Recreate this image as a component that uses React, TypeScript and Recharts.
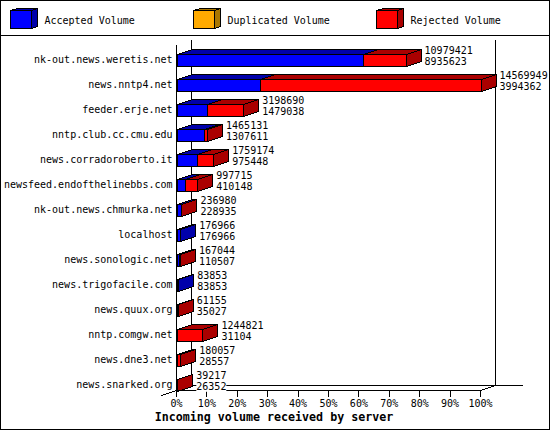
import { BarChart, Bar, XAxis, YAxis, Legend, LabelList } from "recharts";

const servers = [
  "nk-out.news.weretis.net",
  "news.nntp4.net",
  "feeder.erje.net",
  "nntp.club.cc.cmu.edu",
  "news.corradoroberto.it",
  "newsfeed.endofthelinebbs.com",
  "nk-out.news.chmurka.net",
  "localhost",
  "news.sonologic.net",
  "news.trigofacile.com",
  "news.quux.org",
  "nntp.comgw.net",
  "news.dne3.net",
  "news.snarked.org",
];
const totalVolume = [
  10979421, 14569949, 3198690, 1465131, 1759174, 997715, 236980, 176966, 167044, 83853, 61155,
  1244821, 180057, 39217,
];
const acceptedVolume = [
  8935623, 3994362, 1479038, 1307611, 975448, 410148, 228935, 176966, 110507, 83853, 35027, 31104,
  28557, 26352,
];
const duplicatedVolume = [0, 0, 0, 0, 0, 0, 0, 0, 0, 0, 0, 0, 0, 0];
const rejectedVolume = [
  2043798, 10575587, 1719652, 157520, 783726, 587567, 8045, 0, 56537, 0, 26128, 1213717, 151500,
  12865,
];
const tickLabels = ["0%", "10%", "20%", "30%", "40%", "50%", "60%", "70%", "80%", "90%", "100%"];
const tickValues = [
  0, 1456995, 2913990, 4370985, 5827980, 7284975, 8741969, 10198964, 11655959, 13112954, 14569949,
];

const data = servers.map((name, i) => ({
  name,
  total: totalVolume[i],
  accepted: acceptedVolume[i],
  duplicated: duplicatedVolume[i],
  rejected: rejectedVolume[i],
}));

const MONO = "'DejaVu Sans Mono', monospace";
const DEPTH_X = 15;
const DEPTH_Y = 5;
const DARK: any = { "#0000ff": "#0000aa", "#ffaa00": "#aa7700", "#ff0000": "#aa0000" };

// front, top and side of one stack segment
const Box3D = ({ x, y, width, height, fill }: any) => {
  if (!width || width <= 0) return null;
  const l = Math.round(x) + 0.5;
  const r = Math.round(x + width) + 0.5;
  const t = Math.round(y) + 0.5;
  const b = Math.round(y + height) + 0.5;
  const dark = DARK[fill];
  return (
    <g stroke="#000" strokeWidth={1} shapeRendering="crispEdges">
      <polygon
        points={`${l},${t} ${l + DEPTH_X},${t - DEPTH_Y} ${r + DEPTH_X},${t - DEPTH_Y} ${r},${t}`}
        fill={dark}
      />
      <polygon
        points={`${r},${t} ${r + DEPTH_X},${t - DEPTH_Y} ${r + DEPTH_X},${b - DEPTH_Y} ${r},${b}`}
        fill={dark}
      />
      <rect x={l} y={t} width={r - l} height={b - t} fill={fill} />
    </g>
  );
};

const ValueLabel = ({ x, y, width, height, value, index }: any) => {
  const mid = y + height / 2;
  const left = x + width + DEPTH_X + 4;
  const second = String(acceptedVolume[index]);
  return (
    <g fontFamily={MONO} fontSize={10} fill="#000">
      <rect x={left} y={mid - 14} width={String(value).length * 6} height={10} fill="#fff" />
      <rect x={left} y={mid - 3} width={second.length * 6} height={10} fill="#fff" />
      <text x={left} y={mid - 5.5}>
        {value}
      </text>
      <text x={left} y={mid + 5.5}>
        {second}
      </text>
    </g>
  );
};

const LegendRow = ({ payload }: any) => (
  <svg width={550} height={35} style={{ display: "block" }}>
    {(payload || []).map((item: any, i: number) => (
      <g key={item.value} transform={`translate(${183 * i},0)`}>
        <g stroke="#000" shapeRendering="crispEdges">
          <polygon points="10.5,10.5 17.5,8.5 37.5,8.5 31.5,10.5" fill={DARK[item.color]} />
          <polygon points="31.5,10.5 37.5,8.5 37.5,26.5 31.5,28.5" fill={DARK[item.color]} />
          <rect x={10.5} y={10.5} width={21} height={18} fill={item.color} />
        </g>
        <text x={44.5} y={23.5} fontFamily={MONO} fontSize={10} fill="#000">
          {item.value}
        </text>
      </g>
    ))}
  </svg>
);

export default function App() {
  return (
    <div style={{ position: "fixed", left: 0, top: 0, width: 550, height: 430, background: "#fff" }}>
      <BarChart
        width={550}
        height={430}
        data={data}
        layout="vertical"
        barSize={12}
        margin={{ top: 10, right: 69.5, bottom: 9.5, left: 0 }}
      >
        <g stroke="#000" strokeWidth={1} shapeRendering="crispEdges" fill="none">
          <rect x={0.5} y={0.5} width={549} height={429} />
          <line x1={0} y1={35.5} x2={550} y2={35.5} />
          <line x1={191.5} y1={40} x2={191.5} y2={385.5} />
          <line x1={495.5} y1={40} x2={495.5} y2={385.5} />
          <line x1={191.5} y1={385.5} x2={523} y2={385.5} />
          <line x1={161.5} y1={395.5} x2={191.5} y2={385.5} />
          <line x1={480.5} y1={390.5} x2={495.5} y2={385.5} />
        </g>
        <text
          x={274}
          y={421}
          textAnchor="middle"
          fontFamily={MONO}
          fontSize={11.67}
          fontWeight="bold"
          fill="#000"
        >
          Incoming volume received by server
        </text>
        <Legend
          verticalAlign="top"
          content={LegendRow}
          wrapperStyle={{ left: 0, top: 0, width: 550, height: 35 }}
        />
        <XAxis
          type="number"
          domain={[0, 14569949]}
          ticks={tickValues}
          interval={0}
          height={30}
          tickSize={6}
          tickMargin={3}
          tickFormatter={(_: any, i: number) => tickLabels[i]}
          tick={{ fontFamily: MONO, fontSize: 10, fill: "#000" }}
          axisLine={{ stroke: "#000", shapeRendering: "crispEdges" }}
          tickLine={{ stroke: "#000", shapeRendering: "crispEdges" }}
        />
        <YAxis
          type="category"
          dataKey="name"
          width={176.5}
          interval={0}
          padding={{ top: 1.8, bottom: -6.3 }}
          tickLine={false}
          tickSize={0}
          tickMargin={4}
          tick={{ fontFamily: MONO, fontSize: 10, fill: "#000" }}
          axisLine={{ stroke: "#000", shapeRendering: "crispEdges" }}
        />
        <Bar
          dataKey="accepted"
          name="Accepted Volume"
          stackId="a"
          fill="#0000ff"
          shape={Box3D}
          isAnimationActive={false}
        />
        <Bar
          dataKey="duplicated"
          name="Duplicated Volume"
          stackId="a"
          fill="#ffaa00"
          shape={Box3D}
          isAnimationActive={false}
        />
        <Bar
          dataKey="rejected"
          name="Rejected Volume"
          stackId="a"
          fill="#ff0000"
          shape={Box3D}
          isAnimationActive={false}
        >
          <LabelList dataKey="total" content={ValueLabel} />
        </Bar>
      </BarChart>
    </div>
  );
}
